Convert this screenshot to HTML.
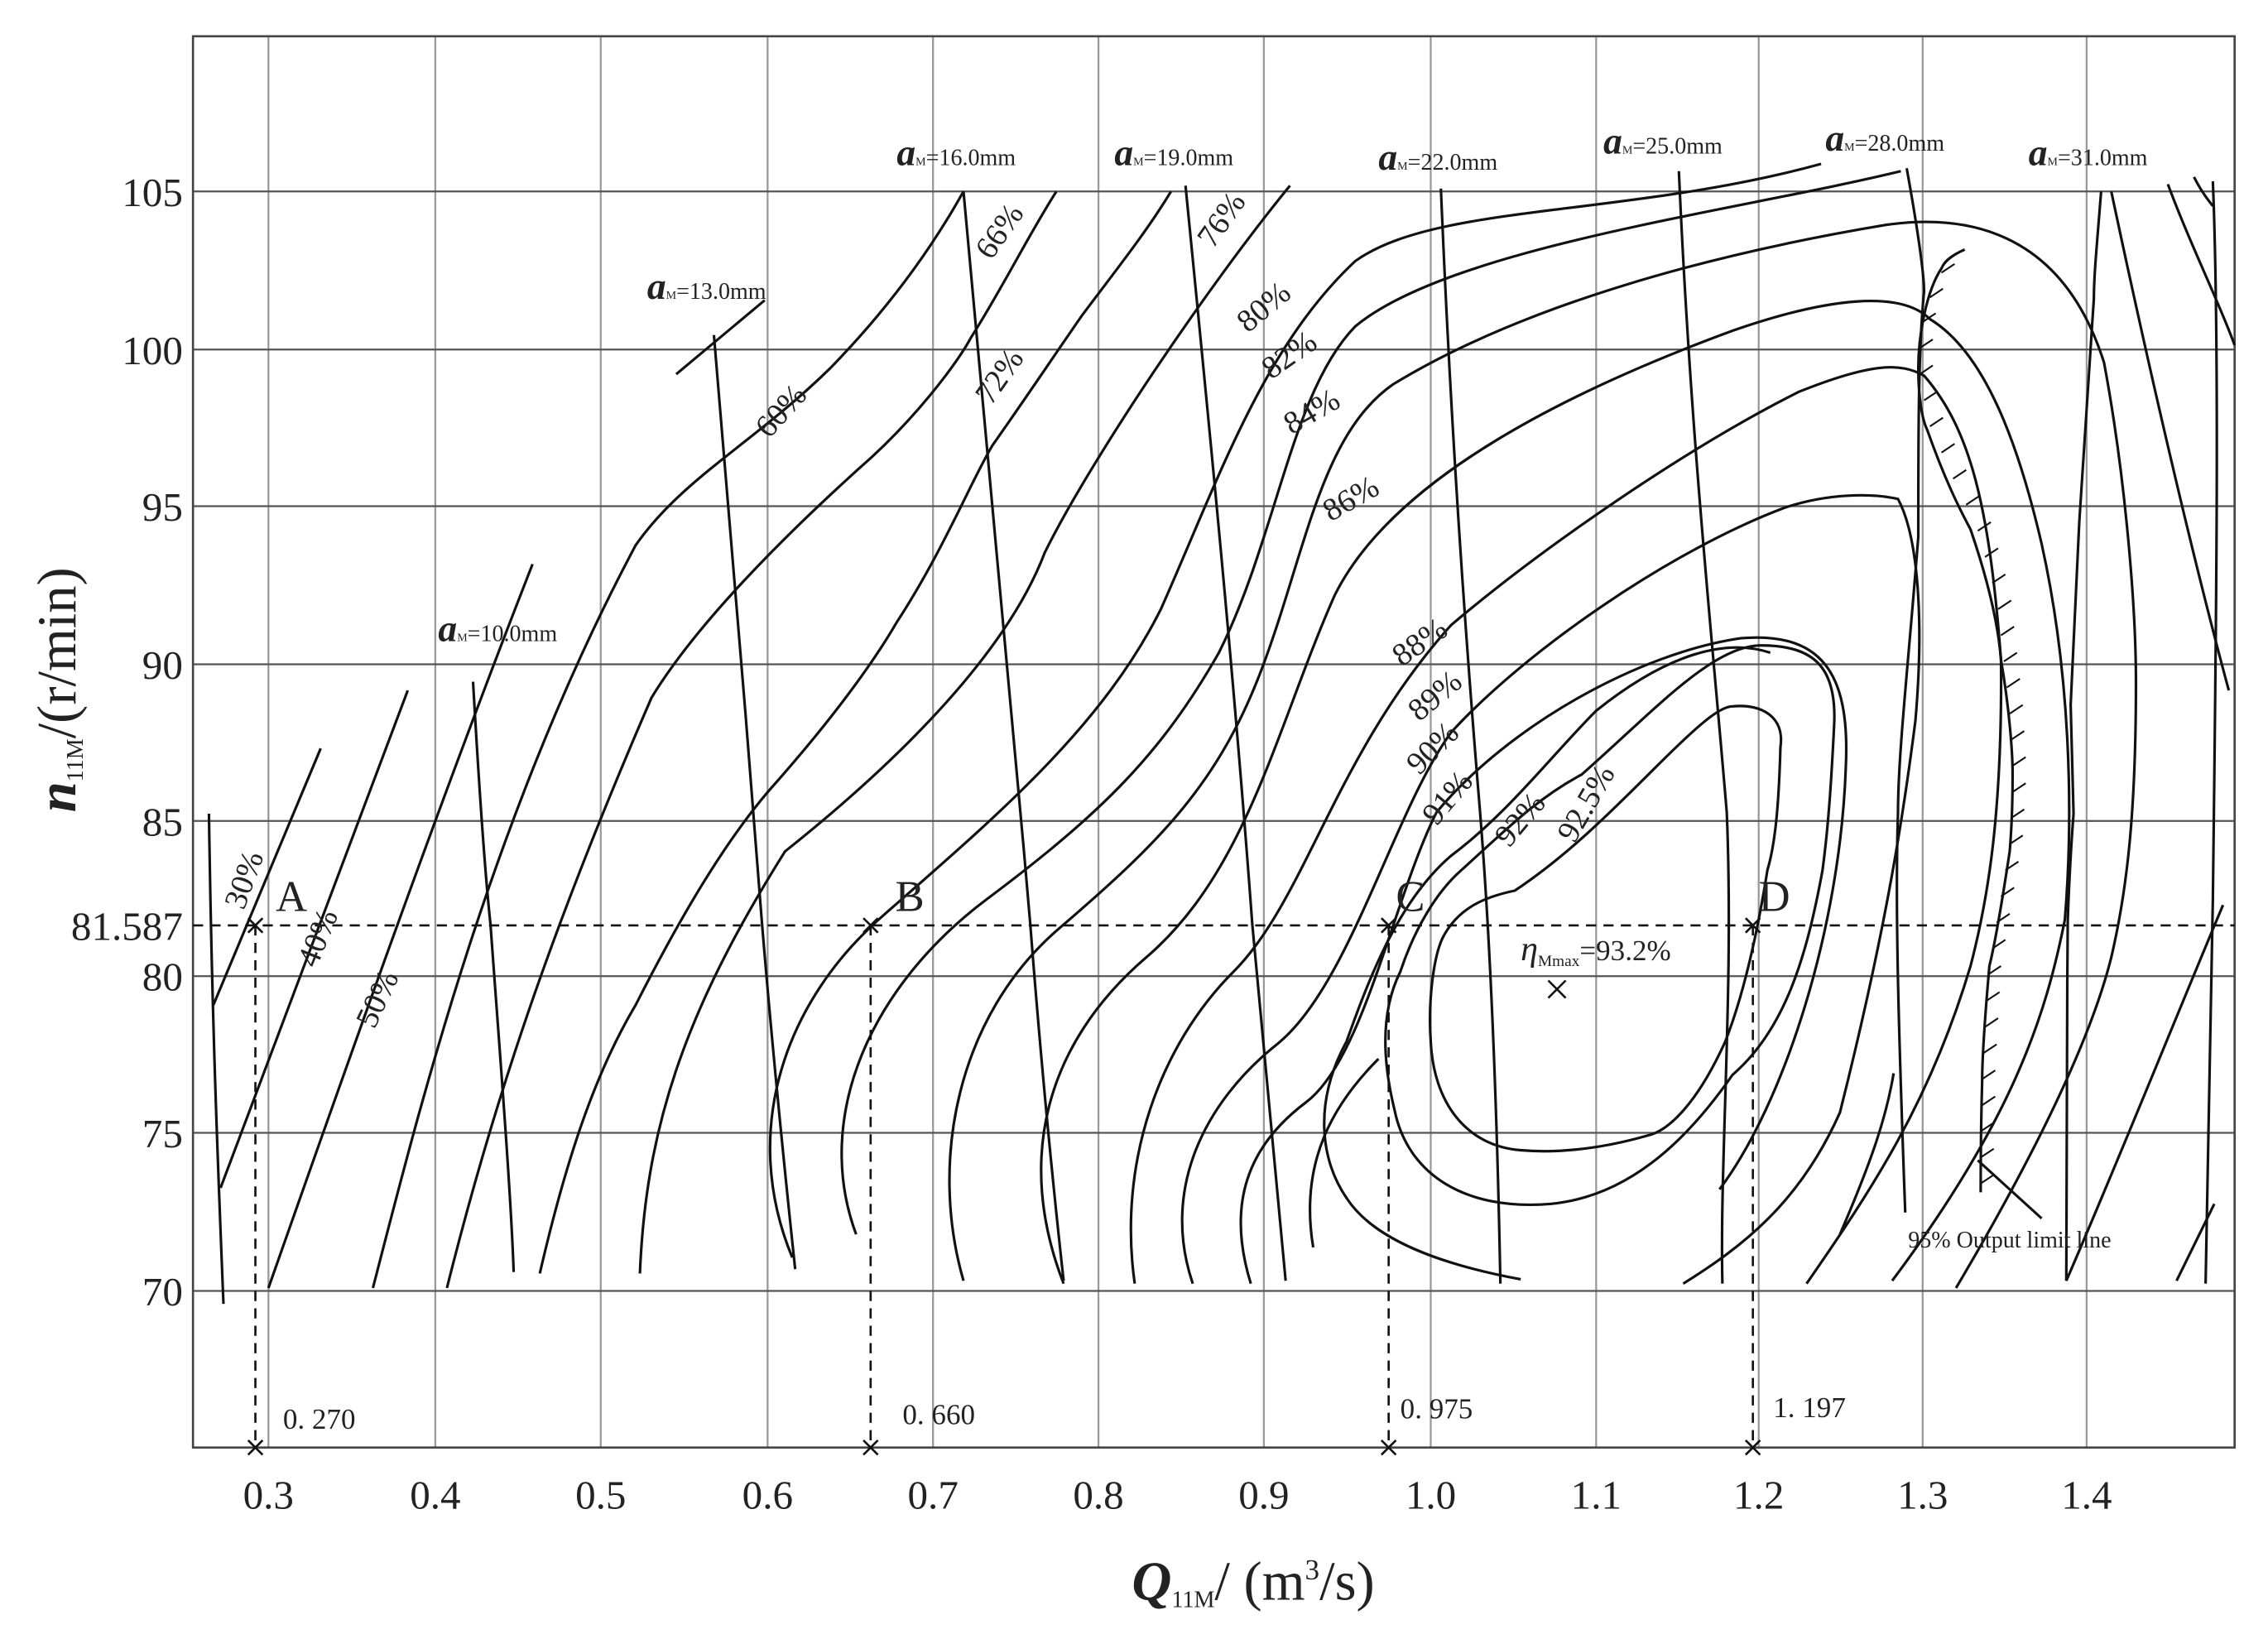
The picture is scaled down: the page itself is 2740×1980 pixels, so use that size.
<!DOCTYPE html>
<html><head><meta charset="utf-8"><style>
html,body{margin:0;padding:0;background:#fff}
svg{display:block}
text{font-family:"Liberation Serif",serif;fill:#222}
</style></head><body>
<svg width="2740" height="1980" viewBox="0 0 1563 1130" preserveAspectRatio="none" xmlns="http://www.w3.org/2000/svg">
<rect width="1563" height="1130" fill="#fff"/>
<g stroke="#999" stroke-width="1.3" fill="none">
<path d="M185,25V998M300,25V998M414,25V998M529,25V998M643,25V998M757,25V998M871,25V998M986,25V998M1100,25V998M1212,25V998M1325,25V998M1438,25V998"/>
</g>
<g stroke="#555" stroke-width="1.3" fill="none">
<path d="M133,132H1540M133,241H1540M133,349H1540M133,458H1540M133,566H1540M133,673H1540M133,781H1540M133,890H1540"/>
</g>
<rect x="133" y="25" width="1407" height="973" fill="none" stroke="#444" stroke-width="1.5"/>
<g stroke="#111" stroke-width="1.8" fill="none">
<path d="M144,561 C146,700 150,800 154,899"/>
<path d="M147,693 L221,516"/>
<path d="M152,819 L281,476"/>
<path d="M185,888 C230,760 300,560 367,389"/>
<path d="M257,888 C290,760 340,560 438,376 C470,330 520,305 572,254 C610,215 640,175 664,132"/>
<path d="M308,888 C340,760 380,640 449,481 C480,430 540,370 592,323 C630,290 660,250 669,233 C690,200 710,160 728,132"/>
<path d="M372,878 C390,800 410,740 438,693 C470,630 500,580 530,545 C570,500 600,460 618,429 C650,380 670,330 684,307 C710,270 730,240 746,217 C770,185 790,160 807,132"/>
<path d="M441,878 C445,780 470,700 541,587 C600,540 690,460 720,381 C750,320 830,200 889,128"/>
<path d="M546,867 C510,780 540,690 610,630 C690,560 760,500 800,420 C840,330 870,240 934,180 C990,140 1120,150 1255,113"/>
<path d="M590,851 C560,770 600,680 680,620 C760,560 800,520 840,450 C880,370 890,270 934,225 C1000,170 1200,145 1310,118"/>
<path d="M664,883 C640,800 660,700 730,640 C800,580 840,540 870,460 C900,380 910,300 960,265 C1050,210 1180,175 1300,155 C1350,148 1420,155 1450,250 C1465,330 1472,420 1472,470 C1472,560 1466,613 1455,660 C1440,720 1400,800 1348,888"/>
<path d="M733,885 C700,800 720,720 790,660 C860,600 880,500 920,410 C960,330 1080,270 1194,228 C1260,205 1310,200 1330,220 C1368,243 1391,306 1407,375 C1427,465 1429,561 1423,634 C1410,700 1387,772 1304,883"/>
<path d="M782,885 C770,800 800,720 850,670 C900,620 920,520 1000,431 C1060,380 1160,310 1240,270 C1290,250 1310,250 1326,259 C1358,296 1371,349 1379,455 C1380,561 1370,620 1358,666 C1330,760 1290,820 1245,885"/>
<path d="M822,885 C800,820 830,760 880,720 C930,680 960,560 1000,505 C1050,450 1150,380 1230,350 C1260,340 1290,340 1308,344 C1322,370 1326,428 1320,497 C1312,560 1300,640 1268,767 C1240,830 1200,860 1160,885"/>
<path d="M862,885 C845,830 860,790 900,760 C940,730 960,620 990,560 C1040,500 1130,450 1200,440 C1260,435 1275,470 1272,530 C1268,640 1230,760 1185,820"/>
<path d="M1048,882 C1010,875 950,860 928,826 C910,800 905,760 928,718 C945,670 965,620 1000,590 C1040,560 1070,520 1100,490 C1150,450 1190,440 1220,450"/>
<path d="M905,860 C895,800 920,760 950,730"/>
<path d="M1090,534 C1140,490 1180,445 1214,445 C1250,445 1266,460 1264,500 C1262,540 1260,570 1256,600 C1245,660 1230,710 1194,741 C1160,790 1120,825 1069,830 C1010,835 970,810 961,765 C950,720 955,690 965,670 C975,640 990,615 1007,600 C1040,570 1060,550 1090,534Z"/>
<path d="M1044,614 C1080,590 1110,560 1140,530 C1170,500 1185,487 1194,487 C1215,485 1230,495 1227,515 C1226,550 1224,580 1218,600 C1210,650 1200,690 1189,718 C1170,760 1150,780 1135,783 C1100,793 1070,795 1048,793 C1010,790 988,760 986,718 C984,690 988,660 994,647 C1005,625 1025,618 1044,614Z"/>
<path d="M1455,132 C1480,250 1510,380 1536,476"/>
<path d="M1494,127 C1510,170 1530,210 1540,238"/>
<path d="M1512,122 C1516,130 1520,136 1525,142"/>
<path d="M1424,883 C1460,800 1500,700 1532,624"/>
<path d="M1500,883 L1526,830"/>
<path d="M1268,851 C1290,800 1300,770 1305,740"/>
<path d="M466,258 L527,207"/>
<path d="M326,470 C330,540 334,600 338,637 C344,720 352,820 354,877"/>
<path d="M492,231 C500,330 515,500 525,635 C532,720 540,800 548,875"/>
<path d="M664,132 C676,280 695,460 710,637 C718,740 726,820 733,883"/>
<path d="M817,128 C832,280 850,460 863,637 C872,740 880,820 886,883"/>
<path d="M993,130 C1000,300 1010,440 1020,560 C1028,660 1032,780 1034,885"/>
<path d="M1157,118 C1165,300 1180,440 1190,560 C1195,680 1185,800 1187,885"/>
<path d="M1314,116 C1322,160 1326,190 1326,201 C1322,240 1322,300 1322,370 C1315,460 1308,520 1308,561 C1306,620 1308,700 1313,836"/>
<path d="M1448,132 C1445,170 1443,190 1443,206 C1438,280 1433,359 1433,359 C1430,420 1427,486 1427,486 C1428,530 1429,561 1429,561 C1426,600 1425,635 1425,635 C1424,750 1424,883 1424,883"/>
<path d="M1525,125 C1530,250 1527,450 1525,620 C1522,760 1520,850 1520,885"/>
<path d="M1354,172 C1345,176 1340,180 1338,185 C1328,200 1322,230 1322,254 C1322,275 1325,290 1328,296 C1340,330 1350,350 1358,365 C1370,400 1377,430 1379,455 C1385,490 1387,520 1387,534 C1387,560 1386,575 1385,587 C1380,620 1375,650 1371,666 C1368,700 1366,730 1366,746 C1365,780 1365,800 1365,822"/>
<path d="M1363,800 L1407,840"/>
</g>
<g stroke="#111" stroke-width="1.2">
<path d="M1338,188l9,-6M1330,205l9,-6M1325,222l9,-6M1323,240l9,-6M1323,258l9,-6M1326,276l9,-6M1330,294l9,-6M1338,312l9,-6M1346,330l9,-6M1355,348l9,-6M1363,366l9,-6M1368,384l9,-6M1373,402l9,-6M1377,420l9,-6M1379,438l9,-6M1381,456l9,-6M1383,474l9,-6M1385,492l9,-6M1386,510l9,-6M1387,528l9,-6M1387,546l9,-6M1386,564l9,-6M1385,582l9,-6M1382,600l9,-6M1379,618l9,-6M1376,636l9,-6M1373,654l9,-6M1370,672l9,-6M1369,690l9,-6M1368,708l9,-6M1367,726l9,-6M1366,744l9,-6M1366,762l9,-6M1365,780l9,-6M1365,798l9,-6M1365,816l9,-6"/>
</g>
<g stroke="#111" stroke-width="1.5" stroke-dasharray="7,5" fill="none">
<path d="M133,638H1540"/>
<path d="M176,638V998M600,638V998M957,638V998M1208,638V998"/>
</g>
<g stroke="#111" stroke-width="1.5">
<path d="M171,633l10,10M181,633l-10,10M595,633l10,10M605,633l-10,10M952,633l10,10M962,633l-10,10M1203,633l10,10M1213,633l-10,10"/>
<path d="M171,993l10,10M181,993l-10,10M595,993l10,10M605,993l-10,10M952,993l10,10M962,993l-10,10M1203,993l10,10M1213,993l-10,10"/>
<path d="M1067,676l12,12M1079,676l-12,12"/>
</g>
<g font-size="30">
<text x="190" y="628">A</text><text x="617" y="628">B</text><text x="962" y="628">C</text><text x="1212" y="628">D</text>
</g>
<g font-size="20" font-family="Liberation Mono">
<text x="195" y="985">0. 270</text><text x="622" y="982">0. 660</text><text x="965" y="978">0. 975</text><text x="1222" y="977">1. 197</text>
</g>
<g font-size="22">
<text transform="translate(168,628) rotate(-70)">30%</text>
<text transform="translate(218,668) rotate(-68)">40%</text>
<text transform="translate(258,710) rotate(-65)">50%</text>
<text transform="translate(530,303) rotate(-48)">60%</text>
<text transform="translate(683,180) rotate(-55)">66%</text>
<text transform="translate(683,280) rotate(-55)">72%</text>
<text transform="translate(836,172) rotate(-55)">76%</text>
<text transform="translate(860,230) rotate(-40)">80%</text>
<text transform="translate(876,262) rotate(-35)">82%</text>
<text transform="translate(890,300) rotate(-30)">84%</text>
<text transform="translate(917,360) rotate(-30)">86%</text>
<text transform="translate(966,460) rotate(-35)">88%</text>
<text transform="translate(978,498) rotate(-40)">89%</text>
<text transform="translate(978,535) rotate(-45)">90%</text>
<text transform="translate(990,570) rotate(-50)">91%</text>
<text transform="translate(1040,585) rotate(-50)">92%</text>
<text transform="translate(1085,582) rotate(-60)">92.5%</text>
</g>
<g font-size="16"><text x="1315" y="860">95% Output limit line</text></g>
<text x="1048" y="662" font-size="24"><tspan font-style="italic">η</tspan><tspan font-size="11" dy="4">Mmax</tspan><tspan dy="-4" font-size="20">=93.2%</tspan></text>
<g font-size="16">
<text x="302" y="442"><tspan font-size="26" font-weight="bold" font-style="italic">a</tspan><tspan font-size="8">M</tspan>=10.0mm</text>
<text x="446" y="206"><tspan font-size="26" font-weight="bold" font-style="italic">a</tspan><tspan font-size="8">M</tspan>=13.0mm</text>
<text x="618" y="114"><tspan font-size="26" font-weight="bold" font-style="italic">a</tspan><tspan font-size="8">M</tspan>=16.0mm</text>
<text x="768" y="114"><tspan font-size="26" font-weight="bold" font-style="italic">a</tspan><tspan font-size="8">M</tspan>=19.0mm</text>
<text x="950" y="117"><tspan font-size="26" font-weight="bold" font-style="italic">a</tspan><tspan font-size="8">M</tspan>=22.0mm</text>
<text x="1105" y="106"><tspan font-size="26" font-weight="bold" font-style="italic">a</tspan><tspan font-size="8">M</tspan>=25.0mm</text>
<text x="1258" y="104"><tspan font-size="26" font-weight="bold" font-style="italic">a</tspan><tspan font-size="8">M</tspan>=28.0mm</text>
<text x="1398" y="114"><tspan font-size="26" font-weight="bold" font-style="italic">a</tspan><tspan font-size="8">M</tspan>=31.0mm</text>
</g>
<g font-size="28" text-anchor="end">
<text x="126" y="142">105</text><text x="126" y="251">100</text><text x="126" y="359">95</text><text x="126" y="468">90</text><text x="126" y="576">85</text><text x="126" y="648">81.587</text><text x="126" y="683">80</text><text x="126" y="791">75</text><text x="126" y="900">70</text>
</g>
<g font-size="28" text-anchor="middle">
<text x="185" y="1040">0.3</text><text x="300" y="1040">0.4</text><text x="414" y="1040">0.5</text><text x="529" y="1040">0.6</text><text x="643" y="1040">0.7</text><text x="757" y="1040">0.8</text><text x="871" y="1040">0.9</text><text x="986" y="1040">1.0</text><text x="1100" y="1040">1.1</text><text x="1212" y="1040">1.2</text><text x="1325" y="1040">1.3</text><text x="1438" y="1040">1.4</text>
</g>
<text x="780" y="1103" font-size="38"><tspan font-style="italic" font-weight="bold">Q</tspan><tspan font-size="16" dy="5">11M</tspan><tspan dy="-5">/ (m</tspan><tspan font-size="20" dy="-14">3</tspan><tspan dy="14">/s)</tspan></text>
<text transform="translate(52,560) rotate(-90)" font-size="38"><tspan font-style="italic" font-weight="bold">n</tspan><tspan font-size="16" dy="5">11M</tspan><tspan dy="-5">/(r/min)</tspan></text>
</svg>
</body></html>
